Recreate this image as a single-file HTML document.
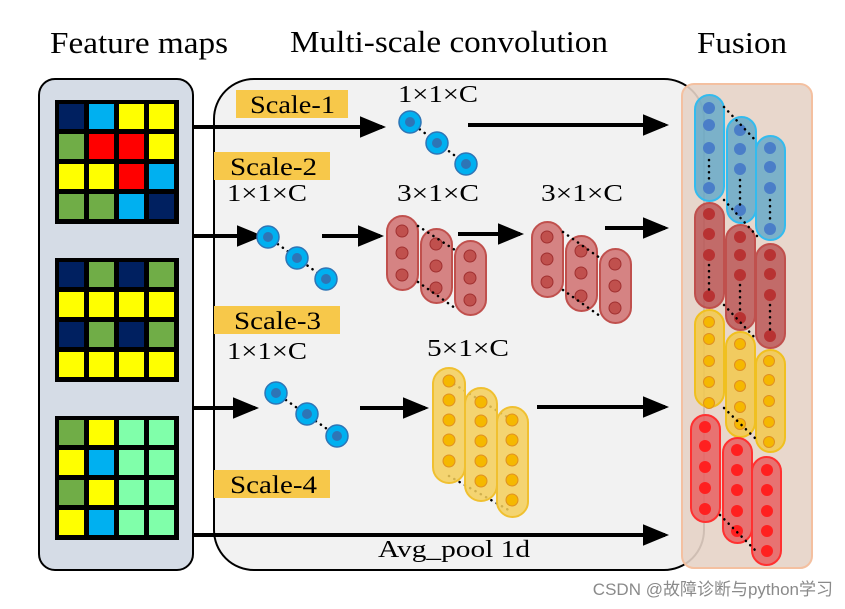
<!DOCTYPE html>
<html><head><meta charset="utf-8"><style>
html,body{margin:0;padding:0;background:#fff;}
svg{display:block;}
text{font-family:"Liberation Serif","Noto Serif CJK SC",serif;fill:#000;}
</style></head><body>
<svg width="845" height="609" viewBox="0 0 845 609" xmlns="http://www.w3.org/2000/svg">
<defs>
<marker id="ar" markerWidth="6.5" markerHeight="6" refX="5.5" refY="3" orient="auto" markerUnits="strokeWidth">
<path d="M0,0.3 L6.5,3 L0,5.7 z" fill="#000"/></marker>
</defs>
<!-- titles -->
<text x="50" y="53" font-size="31" textLength="178" lengthAdjust="spacingAndGlyphs">Feature maps</text>
<text x="290" y="52" font-size="31" textLength="318" lengthAdjust="spacingAndGlyphs">Multi-scale convolution</text>
<text x="697" y="53" font-size="31" textLength="90" lengthAdjust="spacingAndGlyphs">Fusion</text>

<!-- left box -->
<rect x="39" y="79" width="154" height="491" rx="16" fill="#d5dce6" stroke="#000" stroke-width="2"/>
<!-- middle box -->
<rect x="214" y="79" width="490" height="491" rx="40" fill="#f2f2f2" stroke="#000" stroke-width="2"/>

<!-- grid 1 -->
<rect x="55" y="100" width="124" height="124" fill="#000"/>
<g>
<rect x="59" y="104" width="25" height="25" fill="#002060"/><rect x="89" y="104" width="25" height="25" fill="#00b0f0"/><rect x="119" y="104" width="25" height="25" fill="#ffff00"/><rect x="149" y="104" width="25" height="25" fill="#ffff00"/>
<rect x="59" y="134" width="25" height="25" fill="#70ad47"/><rect x="89" y="134" width="25" height="25" fill="#ff0000"/><rect x="119" y="134" width="25" height="25" fill="#ff0000"/><rect x="149" y="134" width="25" height="25" fill="#ffff00"/>
<rect x="59" y="164" width="25" height="25" fill="#ffff00"/><rect x="89" y="164" width="25" height="25" fill="#ffff00"/><rect x="119" y="164" width="25" height="25" fill="#ff0000"/><rect x="149" y="164" width="25" height="25" fill="#00b0f0"/>
<rect x="59" y="194" width="25" height="25" fill="#70ad47"/><rect x="89" y="194" width="25" height="25" fill="#70ad47"/><rect x="119" y="194" width="25" height="25" fill="#00b0f0"/><rect x="149" y="194" width="25" height="25" fill="#002060"/>
</g>
<!-- grid 2 -->
<rect x="55" y="258" width="124" height="124" fill="#000"/>
<g>
<rect x="59" y="262" width="25" height="25" fill="#002060"/><rect x="89" y="262" width="25" height="25" fill="#70ad47"/><rect x="119" y="262" width="25" height="25" fill="#002060"/><rect x="149" y="262" width="25" height="25" fill="#70ad47"/>
<rect x="59" y="292" width="25" height="25" fill="#ffff00"/><rect x="89" y="292" width="25" height="25" fill="#ffff00"/><rect x="119" y="292" width="25" height="25" fill="#ffff00"/><rect x="149" y="292" width="25" height="25" fill="#ffff00"/>
<rect x="59" y="322" width="25" height="25" fill="#002060"/><rect x="89" y="322" width="25" height="25" fill="#70ad47"/><rect x="119" y="322" width="25" height="25" fill="#002060"/><rect x="149" y="322" width="25" height="25" fill="#70ad47"/>
<rect x="59" y="352" width="25" height="25" fill="#ffff00"/><rect x="89" y="352" width="25" height="25" fill="#ffff00"/><rect x="119" y="352" width="25" height="25" fill="#ffff00"/><rect x="149" y="352" width="25" height="25" fill="#ffff00"/>
</g>
<!-- grid 3 -->
<rect x="55" y="416" width="124" height="124" fill="#000"/>
<g>
<rect x="59" y="420" width="25" height="25" fill="#70ad47"/><rect x="89" y="420" width="25" height="25" fill="#ffff00"/><rect x="119" y="420" width="25" height="25" fill="#80ffaa"/><rect x="149" y="420" width="25" height="25" fill="#80ffaa"/>
<rect x="59" y="450" width="25" height="25" fill="#ffff00"/><rect x="89" y="450" width="25" height="25" fill="#00b0f0"/><rect x="119" y="450" width="25" height="25" fill="#80ffaa"/><rect x="149" y="450" width="25" height="25" fill="#80ffaa"/>
<rect x="59" y="480" width="25" height="25" fill="#70ad47"/><rect x="89" y="480" width="25" height="25" fill="#ffff00"/><rect x="119" y="480" width="25" height="25" fill="#80ffaa"/><rect x="149" y="480" width="25" height="25" fill="#80ffaa"/>
<rect x="59" y="510" width="25" height="25" fill="#ffff00"/><rect x="89" y="510" width="25" height="25" fill="#00b0f0"/><rect x="119" y="510" width="25" height="25" fill="#80ffaa"/><rect x="149" y="510" width="25" height="25" fill="#80ffaa"/>
</g>

<!-- scale labels -->
<rect x="236" y="90" width="112" height="28" fill="#f7c84a"/>
<text x="250" y="113" font-size="25" textLength="85" lengthAdjust="spacingAndGlyphs">Scale-1</text>
<rect x="214" y="152" width="116" height="28" fill="#f7c84a"/>
<text x="230" y="175" font-size="25" textLength="87" lengthAdjust="spacingAndGlyphs">Scale-2</text>
<rect x="214" y="306" width="126" height="28" fill="#f7c84a"/>
<text x="234" y="329" font-size="25" textLength="87" lengthAdjust="spacingAndGlyphs">Scale-3</text>
<rect x="214" y="470" width="116" height="28" fill="#f7c84a"/>
<text x="230" y="493" font-size="25" textLength="87" lengthAdjust="spacingAndGlyphs">Scale-4</text>

<!-- kernel labels -->
<g font-size="24">
<text x="398" y="102" textLength="80" lengthAdjust="spacingAndGlyphs">1×1×C</text>
<text x="227" y="201" textLength="80" lengthAdjust="spacingAndGlyphs">1×1×C</text>
<text x="397" y="201" textLength="82" lengthAdjust="spacingAndGlyphs">3×1×C</text>
<text x="541" y="201" textLength="82" lengthAdjust="spacingAndGlyphs">3×1×C</text>
<text x="227" y="359" textLength="80" lengthAdjust="spacingAndGlyphs">1×1×C</text>
<text x="427" y="356" textLength="82" lengthAdjust="spacingAndGlyphs">5×1×C</text>
<text x="378" y="557" textLength="152" lengthAdjust="spacingAndGlyphs">Avg_pool 1d</text>
</g>

<!-- arrows -->
<g stroke="#000" stroke-width="4" fill="none" marker-end="url(#ar)">
<line x1="192" y1="127" x2="382" y2="127"/>
<line x1="468" y1="125" x2="665" y2="125"/>
<line x1="192" y1="236" x2="259" y2="236"/>
<line x1="322" y1="236" x2="380" y2="236"/>
<line x1="458" y1="234" x2="520" y2="234"/>
<line x1="605" y1="228" x2="665" y2="228"/>
<line x1="192" y1="408" x2="255" y2="408"/>
<line x1="360" y1="408" x2="425" y2="408"/>
<line x1="537" y1="407" x2="665" y2="407"/>
<line x1="192" y1="535" x2="665" y2="535"/>
</g>

<!-- blue 1x1 circles -->
<g stroke="#000" stroke-width="2.5" stroke-dasharray="0.1 6" stroke-linecap="round" fill="none">
<line x1="410" y1="122" x2="466" y2="164"/>
<line x1="268" y1="237" x2="326" y2="279"/>
<line x1="276" y1="393" x2="337" y2="436"/>
</g>
<g fill="#00b0f0" stroke="#2e75b6" stroke-width="1.5">
<circle cx="410" cy="122" r="11"/><circle cx="437" cy="143" r="11"/><circle cx="466" cy="164" r="11"/>
<circle cx="268" cy="237" r="11"/><circle cx="297" cy="258" r="11"/><circle cx="326" cy="279" r="11"/>
<circle cx="276" cy="393" r="11"/><circle cx="307" cy="414" r="11"/><circle cx="337" cy="436" r="11"/>
</g>
<g fill="#2e75b6">
<circle cx="410" cy="122" r="5"/><circle cx="437" cy="143" r="5"/><circle cx="466" cy="164" r="5"/>
<circle cx="268" cy="237" r="5"/><circle cx="297" cy="258" r="5"/><circle cx="326" cy="279" r="5"/>
<circle cx="276" cy="393" r="5"/><circle cx="307" cy="414" r="5"/><circle cx="337" cy="436" r="5"/>
</g>

<!-- red 3x1 conv -->
<g fill="#d07070" fill-opacity="0.85" stroke="#c0504d" stroke-width="2">
<rect x="387" y="216" width="31" height="74" rx="15.5"/>
<rect x="421" y="229" width="31" height="74" rx="15.5"/>
<rect x="455" y="241" width="31" height="74" rx="15.5"/>
<rect x="532" y="222" width="31" height="75" rx="15.5"/>
<rect x="566" y="236" width="31" height="75" rx="15.5"/>
<rect x="600" y="249" width="31" height="74" rx="15.5"/>
</g>
<g fill="#c0504d" stroke="#a03030" stroke-width="1">
<circle cx="402" cy="231" r="6"/><circle cx="402" cy="253" r="6"/><circle cx="402" cy="275" r="6"/>
<circle cx="436" cy="244" r="6"/><circle cx="436" cy="266" r="6"/><circle cx="436" cy="288" r="6"/>
<circle cx="470" cy="256" r="6"/><circle cx="470" cy="278" r="6"/><circle cx="470" cy="300" r="6"/>
<circle cx="547" cy="237" r="6"/><circle cx="547" cy="259" r="6"/><circle cx="547" cy="282" r="6"/>
<circle cx="581" cy="251" r="6"/><circle cx="581" cy="273" r="6"/><circle cx="581" cy="296" r="6"/>
<circle cx="615" cy="264" r="6"/><circle cx="615" cy="286" r="6"/><circle cx="615" cy="308" r="6"/>
</g>
<g stroke="#000" stroke-width="2.5" stroke-dasharray="0.1 6" stroke-linecap="round" fill="none">
<line x1="418" y1="226" x2="455" y2="250"/><line x1="418" y1="282" x2="455" y2="308"/>
<line x1="563" y1="232" x2="600" y2="258"/><line x1="563" y1="290" x2="600" y2="316"/>
<line x1="449" y1="381" x2="512" y2="420"/><line x1="449" y1="476" x2="512" y2="512"/>
</g>

<!-- yellow 5x1 conv -->
<g fill="#f5cf5a" fill-opacity="0.85" stroke="#f0c030" stroke-width="2">
<rect x="433" y="368" width="32" height="115" rx="16"/>
<rect x="465" y="388" width="32" height="113" rx="16"/>
<rect x="497" y="407" width="31" height="110" rx="15.5"/>
</g>
<g fill="#f5b800" stroke="#e09020" stroke-width="1">
<circle cx="449" cy="381" r="6"/><circle cx="449" cy="400" r="6"/><circle cx="449" cy="420" r="6"/><circle cx="449" cy="440" r="6"/><circle cx="449" cy="461" r="6"/>
<circle cx="481" cy="402" r="6"/><circle cx="481" cy="421" r="6"/><circle cx="481" cy="441" r="6"/><circle cx="481" cy="461" r="6"/><circle cx="481" cy="481" r="6"/>
<circle cx="512" cy="420" r="6"/><circle cx="512" cy="440" r="6"/><circle cx="512" cy="460" r="6"/><circle cx="512" cy="480" r="6"/><circle cx="512" cy="500" r="6"/>
</g>

<!-- fusion box -->
<rect x="682" y="84" width="130" height="484" rx="12" fill="#e6d3c6" fill-opacity="0.9" stroke="#f4c0a0" stroke-width="2"/>
<g fill="#5fa8c8" fill-opacity="0.8" stroke="#33bbee" stroke-width="2">
<rect x="695" y="95" width="29" height="106" rx="14.5"/>
<rect x="727" y="117" width="29" height="106" rx="14.5"/>
<rect x="756" y="136" width="29" height="104" rx="14.5"/>
</g>
<g fill="#4a7ec8">
<circle cx="709" cy="108" r="6"/><circle cx="709" cy="125" r="6"/><circle cx="709" cy="148" r="6"/><circle cx="709" cy="188" r="6"/>
<circle cx="740" cy="130" r="6"/><circle cx="740" cy="149" r="6"/><circle cx="740" cy="169" r="6"/><circle cx="740" cy="210" r="6"/>
<circle cx="770" cy="148" r="6"/><circle cx="770" cy="167" r="6"/><circle cx="770" cy="188" r="6"/><circle cx="770" cy="229" r="6"/>
</g>
<g fill="#b85050" fill-opacity="0.8" stroke="#c0504d" stroke-width="2">
<rect x="695" y="203" width="29" height="105" rx="14.5"/>
<rect x="726" y="225" width="29" height="105" rx="14.5"/>
<rect x="756" y="244" width="29" height="104" rx="14.5"/>
</g>
<g fill="#b83232">
<circle cx="709" cy="214" r="6"/><circle cx="709" cy="234" r="6"/><circle cx="709" cy="255" r="6"/><circle cx="709" cy="296" r="6"/>
<circle cx="740" cy="237" r="6"/><circle cx="740" cy="255" r="6"/><circle cx="740" cy="275" r="6"/><circle cx="740" cy="318" r="6"/>
<circle cx="770" cy="255" r="6"/><circle cx="770" cy="274" r="6"/><circle cx="770" cy="295" r="6"/><circle cx="770" cy="336" r="6"/>
</g>
<g fill="#f2c94c" fill-opacity="0.85" stroke="#f0c020" stroke-width="2">
<rect x="695" y="310" width="29" height="97" rx="14.5"/>
<rect x="726" y="332" width="29" height="105" rx="14.5"/>
<rect x="756" y="350" width="29" height="102" rx="14.5"/>
</g>
<g fill="#f5b800" stroke="#e09020" stroke-width="1">
<circle cx="709" cy="322" r="5.5"/><circle cx="709" cy="339" r="5.5"/><circle cx="709" cy="361" r="5.5"/><circle cx="709" cy="382" r="5.5"/><circle cx="709" cy="403" r="5.5"/>
<circle cx="740" cy="344" r="5.5"/><circle cx="740" cy="365" r="5.5"/><circle cx="740" cy="386" r="5.5"/><circle cx="740" cy="407" r="5.5"/><circle cx="740" cy="424" r="5.5"/>
<circle cx="769" cy="361" r="5.5"/><circle cx="769" cy="380" r="5.5"/><circle cx="769" cy="401" r="5.5"/><circle cx="769" cy="422" r="5.5"/><circle cx="769" cy="442" r="5.5"/>
</g>
<g fill="#e86060" fill-opacity="0.85" stroke="#ff3030" stroke-width="2">
<rect x="691" y="415" width="29" height="107" rx="14.5"/>
<rect x="723" y="438" width="29" height="105" rx="14.5"/>
<rect x="752" y="457" width="29" height="108" rx="14.5"/>
</g>
<g fill="#ff2020">
<circle cx="705" cy="427" r="6"/><circle cx="705" cy="446" r="6"/><circle cx="705" cy="467" r="6"/><circle cx="705" cy="488" r="6"/><circle cx="705" cy="509" r="6"/>
<circle cx="737" cy="450" r="6"/><circle cx="737" cy="470" r="6"/><circle cx="737" cy="490" r="6"/><circle cx="737" cy="511" r="6"/><circle cx="737" cy="531" r="6"/>
<circle cx="767" cy="470" r="6"/><circle cx="767" cy="490" r="6"/><circle cx="767" cy="511" r="6"/><circle cx="767" cy="531" r="6"/><circle cx="767" cy="551" r="6"/>
</g>
<g stroke="#000" stroke-width="2.5" stroke-dasharray="0.1 6" stroke-linecap="round" fill="none">
<line x1="709" y1="160" x2="709" y2="180"/><line x1="740" y1="180" x2="740" y2="205"/><line x1="770" y1="200" x2="770" y2="222"/>
<line x1="709" y1="265" x2="709" y2="290"/><line x1="740" y1="285" x2="740" y2="312"/><line x1="770" y1="305" x2="770" y2="330"/>
<line x1="724" y1="107" x2="757" y2="142"/><line x1="724" y1="200" x2="757" y2="236"/>
<line x1="724" y1="305" x2="757" y2="340"/><line x1="724" y1="408" x2="757" y2="440"/>
<line x1="720" y1="515" x2="757" y2="552"/>
</g>

<text x="833" y="595" font-size="17" text-anchor="end" style="font-family:'Liberation Sans','Noto Sans CJK SC',sans-serif;fill:#8a8a8a">CSDN @故障诊断与python学习</text>
</svg>
</body></html>
